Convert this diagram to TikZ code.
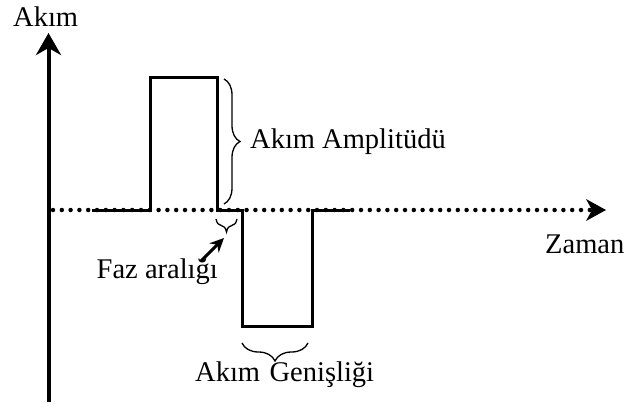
\documentclass[tikz,border=0pt]{standalone}
\usepackage{fontspec}
\setmainfont{Liberation Serif}
\usetikzlibrary{arrows.meta,decorations.pathreplacing}
\begin{document}
\begin{tikzpicture}[x=1pt,y=-1pt,
  axis/.style={line width=4pt},
  pulse/.style={line width=3pt, line join=miter},
  dots/.style={line width=4.5pt, line cap=round, dash pattern=on 0pt off 8.8pt},
  bracestyle/.style={line width=1.3pt, decorate},
  lbl/.style={inner sep=0pt, font=\fontsize{28.5}{34}\selectfont}]
\useasboundingbox (0,0) rectangle (630,407);
% axes
\coordinate (ybot) at (48.5,402);
\coordinate (ytop) at (48.5,33);
\coordinate (o) at (53,210);
\coordinate (xdotend) at (592,210);
\coordinate (xend) at (606,210);
\draw[axis,-{Stealth[length=22pt,width=25pt,inset=7pt]}] (ybot) -- (ytop);
\draw[dots] (o) -- (xdotend);
\fill (xend) -- ++(-20,-11) -- ++(6,11) -- ++(-6,11) -- cycle;
% pulse
\coordinate (p1) at (92,210);
\coordinate (p2) at (150,210);
\coordinate (p3) at (150,77);
\coordinate (p4) at (217,77);
\coordinate (p5) at (217,210);
\coordinate (p6) at (242,210);
\coordinate (p7) at (242,326);
\coordinate (p8) at (312,326);
\coordinate (p9) at (312,210);
\coordinate (p10) at (350,210);
\draw[pulse] (p1) -- (p2) -- (p3) -- (p4) -- (p5) -- (p6) -- (p7) -- (p8) -- (p9) -- (p10);
% braces
\coordinate (ba1) at (224,79);
\coordinate (ba2) at (224,204);
\draw[bracestyle, decoration={brace,amplitude=16pt}] (ba1) -- (ba2);
\coordinate (bf1) at (237,219);
\coordinate (bf2) at (216,219);
\draw[bracestyle, decoration={brace,amplitude=13pt}] (bf1) -- (bf2);
\coordinate (bg1) at (308,343);
\coordinate (bg2) at (242,343);
\draw[bracestyle, decoration={brace,amplitude=18pt}] (bg1) -- (bg2);
% labels
\node[lbl, anchor=base west] (yl) at (13,26) {Akım};
\node[lbl, anchor=base west] (al) at (250,148) {Akım Amplitüdü};
\node[lbl, anchor=base west] (xl) at (545,253) {Zaman};
\node[lbl, anchor=base east] (fl) at (218,278) {Faz aralığı};
\node[lbl, anchor=base west] (gl) at (195,381) {Akım\hspace{9.5pt}Genişliği};
% pointer arrow
\coordinate (ftail) at (201,261);
\coordinate (fhead) at (224,238);
\draw[line width=3pt, -{Stealth[length=14pt,width=13pt]}] (ftail) -- (fhead);
\end{tikzpicture}
\end{document}
